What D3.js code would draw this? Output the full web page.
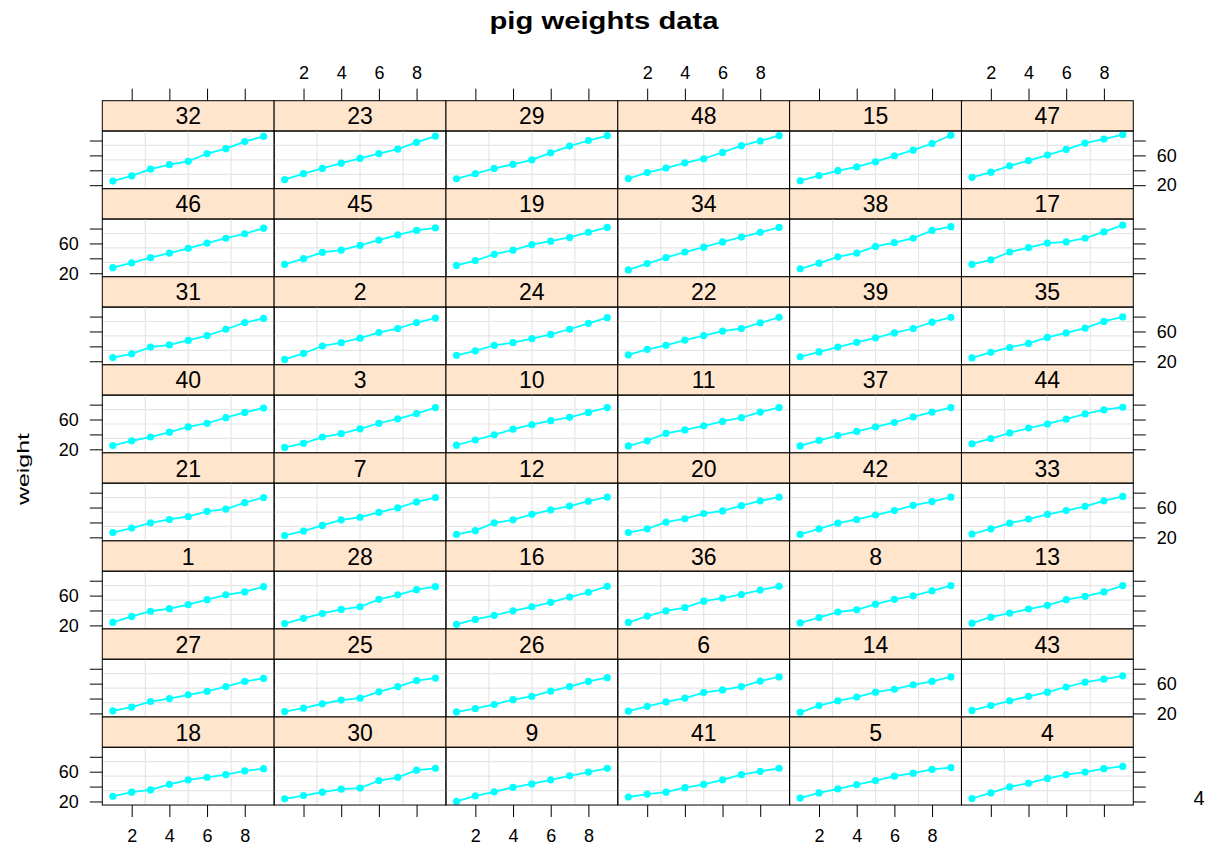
<!DOCTYPE html>
<html>
<head>
<meta charset="utf-8">
<script src="https://cdn.jsdelivr.net/npm/d3@7"></script>
<style>
  body { margin: 0; background: #fff; }
  svg { display: block; font-family: "Liberation Sans", Arial, Helvetica, sans-serif; }
</style>
</head>
<body>
<script>
// weeks on x, one weight series per pig (index = pig id - 1)
const weeks = [1, 2, 3, 4, 5, 6, 7, 8, 9]

// panel order, read left to right from the top row down
const pigOrder = [
  32, 23, 29, 48, 15, 47,
  46, 45, 19, 34, 38, 17,
  31, 2, 24, 22, 39, 35,
  40, 3, 10, 11, 37, 44,
  21, 7, 12, 20, 42, 33,
  1, 28, 16, 36, 8, 13,
  27, 25, 26, 6, 14, 43,
  18, 30, 9, 41, 5, 4
]

const weightsByPig = [
  [24.0, 32.0, 39.0, 42.5, 48.0, 54.5, 61.0, 65.0, 72.0],
  [22.5, 30.5, 40.5, 45.0, 51.0, 58.5, 64.0, 72.0, 78.0],
  [22.5, 28.0, 36.5, 41.0, 47.5, 55.0, 61.0, 68.0, 76.0],
  [24.0, 31.5, 39.5, 44.5, 51.0, 56.0, 59.5, 64.0, 67.0],
  [24.5, 31.5, 37.0, 42.5, 48.0, 54.0, 58.0, 63.0, 65.5],
  [23.0, 29.5, 35.5, 40.5, 48.0, 51.5, 56.0, 63.5, 69.0],
  [22.5, 28.5, 36.0, 43.5, 47.0, 53.5, 59.5, 67.5, 73.5],
  [23.5, 30.5, 38.0, 41.0, 48.5, 55.0, 59.5, 66.5, 73.5],
  [20.0, 27.5, 33.0, 39.0, 43.5, 49.0, 54.5, 59.5, 64.5],
  [25.5, 32.5, 39.5, 47.0, 53.0, 58.5, 63.0, 69.5, 76.0],
  [24.5, 31.5, 41.5, 46.0, 51.5, 57.5, 62.5, 70.0, 76.0],
  [24.0, 29.0, 39.5, 43.5, 51.0, 57.0, 62.0, 68.5, 74.0],
  [23.0, 31.0, 36.5, 42.0, 47.0, 54.5, 59.0, 65.0, 73.5],
  [21.5, 30.5, 37.0, 42.0, 48.5, 52.5, 58.5, 63.0, 69.0],
  [26.0, 33.0, 39.5, 44.5, 51.5, 59.5, 67.0, 76.0, 87.0],
  [21.5, 28.0, 33.5, 39.5, 45.0, 51.0, 58.0, 64.5, 72.5],
  [32.0, 38.0, 48.5, 54.5, 60.5, 62.0, 67.0, 75.5, 84.5],
  [27.0, 32.5, 35.5, 43.0, 49.0, 52.5, 56.0, 61.0, 64.0],
  [30.5, 37.0, 45.5, 51.0, 58.5, 63.0, 68.0, 75.0, 81.5],
  [26.5, 31.5, 40.5, 45.0, 52.0, 55.5, 62.5, 69.0, 74.0],
  [26.5, 32.5, 39.5, 44.0, 48.0, 55.0, 58.0, 66.5, 73.5],
  [28.5, 36.0, 41.5, 48.5, 54.5, 60.5, 64.0, 71.5, 79.0],
  [27.5, 35.5, 42.5, 49.5, 56.0, 62.5, 68.5, 77.5, 86.0],
  [28.0, 34.0, 41.5, 45.0, 50.5, 56.0, 63.0, 71.0, 78.5],
  [22.5, 27.0, 33.0, 38.0, 40.5, 49.0, 56.0, 64.0, 67.5],
  [22.0, 26.5, 32.0, 38.5, 43.0, 50.0, 56.0, 63.0, 68.0],
  [23.5, 28.5, 36.0, 40.0, 45.0, 49.5, 56.0, 63.0, 67.0],
  [22.5, 29.5, 36.0, 41.5, 45.0, 55.0, 61.0, 68.0, 72.0],
  [28.5, 35.5, 42.5, 48.0, 54.0, 63.5, 72.5, 80.0, 86.5],
  [23.5, 28.0, 32.5, 36.5, 38.0, 48.0, 52.5, 62.0, 64.5],
  [25.0, 30.0, 39.0, 42.0, 48.0, 54.5, 63.0, 72.0, 77.5],
  [25.5, 32.5, 41.5, 47.5, 52.0, 62.5, 69.0, 78.5, 85.5],
  [24.5, 31.5, 39.0, 44.5, 51.0, 56.0, 61.5, 69.0, 75.0],
  [24.5, 33.0, 41.0, 48.5, 55.0, 62.0, 68.5, 75.0, 81.5],
  [24.5, 32.0, 38.5, 44.0, 52.0, 58.0, 64.5, 73.5, 79.5],
  [24.0, 32.5, 39.5, 44.0, 52.5, 56.5, 61.5, 67.5, 72.5],
  [24.5, 32.0, 38.5, 44.0, 50.0, 56.0, 63.5, 70.0, 76.0],
  [26.0, 33.5, 42.0, 47.0, 56.0, 61.0, 67.0, 77.5, 82.5],
  [26.0, 32.5, 39.0, 45.5, 51.5, 58.0, 64.0, 72.5, 79.0],
  [25.0, 31.5, 36.5, 43.0, 50.0, 55.0, 62.5, 69.5, 75.5],
  [26.0, 30.0, 32.5, 38.5, 43.0, 49.0, 56.0, 60.5, 64.5],
  [24.0, 31.5, 39.0, 44.0, 50.0, 56.0, 63.0, 68.0, 74.0],
  [24.0, 30.5, 37.0, 43.0, 48.5, 55.5, 62.0, 66.0, 70.5],
  [27.5, 34.5, 42.0, 48.5, 54.0, 60.5, 67.5, 73.0, 76.5],
  [32.0, 39.5, 48.0, 51.0, 57.5, 64.5, 71.5, 77.5, 81.0],
  [27.5, 34.0, 41.0, 47.0, 53.5, 60.5, 67.0, 73.0, 80.5],
  [30.5, 37.5, 46.0, 53.0, 60.5, 68.0, 76.5, 82.0, 88.0],
  [29.0, 37.0, 43.0, 50.0, 55.5, 64.0, 73.0, 79.5, 86.5]
]

const xTicks = [2, 4, 6, 8]
const yTicks = [20, 40, 60, 80]
const yTickLabels = [20, 60]

const w = 1209
const h = 848
const gridLeft = 102.3
const gridTop = 100.7
const nCol = 6
const nRow = 8
const panelW = 171.83
const rowH = 88.04
const stripH = 30.3
const plotH = rowH - stripH

const svg = d3.select('body')
  .append('svg')
  .attr('width', w)
  .attr('height', h)

// lattice style: pad the data range by 7% on each side
const pad = 0.07
const xExt = d3.extent(weeks)
const xPad = (xExt[1] - xExt[0]) * pad
const xScale = d3.scaleLinear()
  .domain([xExt[0] - xPad, xExt[1] + xPad])
  .range([0, panelW])

const yExt = d3.extent(weightsByPig.flat())
const yPad = (yExt[1] - yExt[0]) * pad
const yScale = d3.scaleLinear()
  .domain([yExt[0] - yPad, yExt[1] + yPad])
  .range([plotH, 0])

const line = d3.line()
  .x(d => xScale(d[0]))
  .y(d => yScale(d[1]))

pigOrder.forEach((pig, i) => {
  const col = i % nCol
  const row = Math.floor(i / nCol)
  const g = svg.append('g')
    .attr('transform', `translate(${gridLeft + col * panelW},${gridTop + row * rowH})`)

  // strip
  g.append('rect')
    .attr('width', panelW)
    .attr('height', stripH)
    .attr('fill', '#ffe5cc')
    .attr('stroke', '#000')
  g.append('text')
    .attr('x', panelW / 2)
    .attr('y', stripH / 2 + 8.5)
    .attr('text-anchor', 'middle')
    .attr('font-size', 23)
    .text(pig)

  const p = g.append('g').attr('transform', `translate(0,${stripH})`)

  // grid, 3 lines each way
  p.selectAll('.vg')
    .data(d3.range(1, 4))
    .enter()
    .append('line')
    .attr('x1', k => panelW * k / 4)
    .attr('x2', k => panelW * k / 4)
    .attr('y1', 0)
    .attr('y2', plotH)
    .attr('stroke', '#e6e6e6')
    .attr('stroke-width', 1.2)
  p.selectAll('.hg')
    .data(d3.range(1, 4))
    .enter()
    .append('line')
    .attr('x1', 0)
    .attr('x2', panelW)
    .attr('y1', k => plotH * k / 4)
    .attr('y2', k => plotH * k / 4)
    .attr('stroke', '#e6e6e6')
    .attr('stroke-width', 1.2)

  const pts = weeks.map((wk, j) => [wk, weightsByPig[pig - 1][j]])
  p.append('path')
    .datum(pts)
    .attr('d', line)
    .attr('fill', 'none')
    .attr('stroke', '#00ffff')
    .attr('stroke-width', 1.8)
  p.selectAll('circle')
    .data(pts)
    .enter()
    .append('circle')
    .attr('cx', d => xScale(d[0]))
    .attr('cy', d => yScale(d[1]))
    .attr('r', 3.6)
    .attr('fill', '#00ffff')

  p.append('rect')
    .attr('width', panelW)
    .attr('height', plotH)
    .attr('fill', 'none')
    .attr('stroke', '#000')
})

const styleAxis = a => {
  a.select('.domain').remove()
  a.attr('font-size', 18).attr('font-family', null)
  a.selectAll('line').attr('stroke', '#000')
  a.selectAll('text').attr('fill', '#000')
}

// x axes, labels alternate between top and bottom
d3.range(nCol).forEach(col => {
  const x0 = gridLeft + col * panelW
  svg.append('g')
    .attr('transform', `translate(${x0},${gridTop})`)
    .call(d3.axisTop(xScale).tickValues(xTicks).tickSize(12).tickPadding(10)
      .tickFormat(d => col % 2 === 1 ? d : ''))
    .call(styleAxis)
  svg.append('g')
    .attr('transform', `translate(${x0},${gridTop + nRow * rowH})`)
    .call(d3.axisBottom(xScale).tickValues(xTicks).tickSize(12).tickPadding(12)
      .tickFormat(d => col % 2 === 0 ? d : ''))
    .call(styleAxis)
})

// y axes, labels alternate between right and left
d3.range(nRow).forEach(row => {
  const y0 = gridTop + row * rowH + stripH
  svg.append('g')
    .attr('transform', `translate(${gridLeft},${y0})`)
    .call(d3.axisLeft(yScale).tickValues(yTicks).tickSize(12.5).tickPadding(11)
      .tickFormat(d => row % 2 === 1 && yTickLabels.includes(d) ? d : ''))
    .call(styleAxis)
  svg.append('g')
    .attr('transform', `translate(${gridLeft + nCol * panelW},${y0})`)
    .call(d3.axisRight(yScale).tickValues(yTicks).tickSize(12.5).tickPadding(11)
      .tickFormat(d => row % 2 === 0 && yTickLabels.includes(d) ? d : ''))
    .call(styleAxis)
})

svg.append('text')
  .attr('x', 604)
  .attr('y', 29)
  .attr('text-anchor', 'middle')
  .attr('font-size', 23)
  .attr('font-weight', 'bold')
  .attr('textLength', 229)
  .attr('lengthAdjust', 'spacingAndGlyphs')
  .text('pig weights data')

svg.append('text')
  .attr('transform', 'translate(29,469) rotate(-90)')
  .attr('text-anchor', 'middle')
  .attr('font-size', 17)
  .attr('textLength', 72)
  .attr('lengthAdjust', 'spacingAndGlyphs')
  .text('weight')

svg.append('text')
  .attr('x', 1199)
  .attr('y', 805)
  .attr('text-anchor', 'middle')
  .attr('font-size', 20)
  .text('4')
</script>
</body>
</html>
